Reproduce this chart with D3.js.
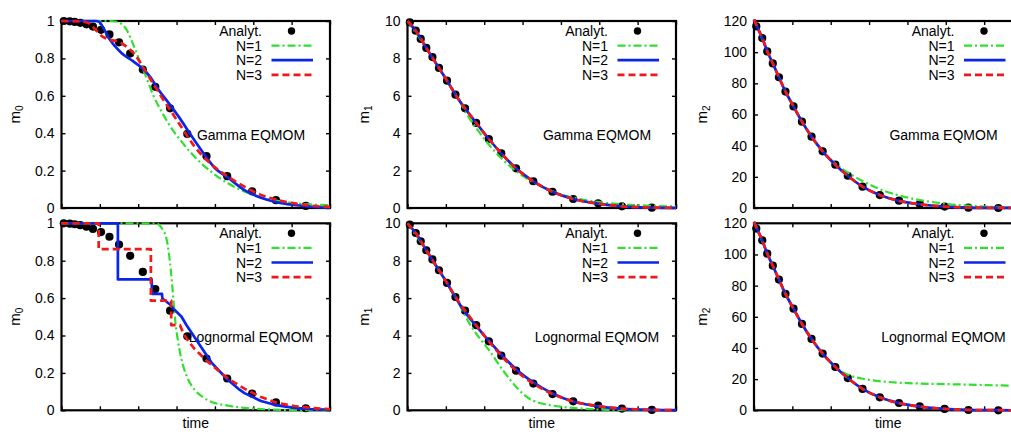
<!DOCTYPE html>
<html><head><meta charset="utf-8">
<script src="https://cdn.jsdelivr.net/npm/d3@7"></script>
<style>
body{margin:0;background:#fff}
svg{display:block}
text{font-family:"Liberation Sans",Arial,Helvetica,sans-serif}
</style>
</head><body>
<svg id="c" width="1011" height="432"></svg>
<script>
// ---------------- DATA ----------------
const timeDomain = [0, 7];
const timeTicks = [0, 1, 2, 3, 4, 5, 6, 7];

const m0Ticks = [0, 0.2, 0.4, 0.6, 0.8, 1];
const m0TickLabels = ["0", "0.2", "0.4", "0.6", "0.8", "1"];
const m1Ticks = [0, 2, 4, 6, 8, 10];
const m1TickLabels = ["0", "2", "4", "6", "8", "10"];
const m2Ticks = [0, 20, 40, 60, 80, 100, 120];
const m2TickLabels = ["0", "20", "40", "60", "80", "100", "120"];

const legendLabels = ["Analyt.", "N=1", "N=2", "N=3"];
const methodLabels = ["Gamma EQMOM", "Lognormal EQMOM"];

// analytical solution (shared time points)
const tAnalyt = [0.06, 0.215, 0.345, 0.49, 0.65, 0.82, 1.03, 1.25, 1.50, 1.79, 2.12, 2.445, 2.83, 3.28, 3.78, 4.32, 4.97, 5.59, 6.37];
const m0Analyt = [1.0, 0.998, 0.995, 0.99, 0.982, 0.97, 0.953, 0.928, 0.886, 0.826, 0.74, 0.648, 0.533, 0.396, 0.277, 0.17, 0.089, 0.042, 0.011];
const m1Analyt = [9.93, 9.48, 9.04, 8.56, 8.07, 7.49, 6.81, 6.06, 5.33, 4.55, 3.69, 2.92, 2.12, 1.43, 0.87, 0.48, 0.25, 0.09, 0.02];
const m2Analyt = [116.6, 109.1, 100.5, 92.8, 83.9, 74.7, 65.2, 55.4, 45.8, 36.4, 27.8, 20.7, 13.7, 8.3, 4.7, 2.6, 0.9, 0.2, 0.0];

// Gamma EQMOM, m0  [time, value]
const gammaM0N1 = [[0,1],[1.25,1],[1.45,0.996],[1.58,0.982],[1.70,0.952],[1.875,0.872],[2.05,0.78],[2.22,0.694],[2.39,0.604],[2.61,0.515],[2.87,0.426],[3.13,0.355],[3.47,0.274],[3.9,0.194],[4.34,0.132],[4.77,0.088],[5.2,0.056],[5.63,0.038],[6.07,0.026],[6.5,0.019],[7,0.015]];
const gammaM0N2 = [[0,1],[0.9,1],[0.98,0.995],[1.10,0.96],[1.23,0.91],[1.40,0.864],[1.57,0.828],[1.83,0.79],[2.09,0.75],[2.31,0.702],[2.52,0.635],[2.78,0.565],[3.09,0.478],[3.39,0.385],[3.73,0.285],[3.99,0.215],[4.34,0.162],[4.77,0.096],[5.2,0.055],[5.63,0.030],[6.07,0.016],[6.41,0.008],[7,0.002]];
const gammaM0N3 = [[0,1],[0.5,0.998],[0.71,0.988],[0.88,0.955],[1.06,0.918],[1.27,0.899],[1.49,0.889],[1.70,0.862],[1.92,0.818],[2.13,0.752],[2.35,0.678],[2.57,0.606],[2.83,0.525],[3.13,0.432],[3.47,0.328],[3.82,0.25],[4.34,0.167],[4.77,0.114],[5.2,0.07],[5.63,0.043],[6.07,0.025],[6.5,0.013],[7,0.006]];

// Lognormal EQMOM, m0
const lognM0N1 = [[0,1],[2.3,1],[2.5,0.997],[2.61,0.975],[2.74,0.915],[2.80,0.84],[2.85,0.75],[2.89,0.66],[2.93,0.56],[2.97,0.47],[3.03,0.38],[3.13,0.27],[3.26,0.185],[3.47,0.11],[3.69,0.07],[3.9,0.046],[4.34,0.025],[4.77,0.013],[5.5,0.004],[6.3,0.001],[7,0]];
const lognM0N2 = [[0,1],[1.47,1],[1.47,0.70],[2.35,0.70],[2.36,0.623],[2.62,0.623],[2.63,0.598],[2.83,0.566],[2.91,0.545],[3.13,0.50],[3.26,0.455],[3.47,0.39],[3.60,0.35],[3.91,0.255],[4.30,0.17],[4.64,0.11],[4.77,0.092],[5.2,0.05],[5.63,0.026],[6.07,0.013],[6.5,0.006],[7,0.003]];
const lognM0N3 = [[0,1],[0.97,1],[0.97,0.862],[2.33,0.862],[2.33,0.586],[2.86,0.586],[2.86,0.455],[3.09,0.455],[3.18,0.41],[3.30,0.372],[3.47,0.328],[3.60,0.302],[3.82,0.259],[4.34,0.17],[4.77,0.116],[5.2,0.071],[5.63,0.039],[6.07,0.023],[6.5,0.013],[7,0.006]];

// m1
const m1Fit = [[0,10],[0.215,9.48],[0.49,8.56],[0.82,7.49],[1.03,6.81],[1.25,6.06],[1.5,5.33],[1.79,4.55],[2.12,3.69],[2.445,2.92],[2.83,2.12],[3.28,1.43],[3.78,0.87],[4.32,0.48],[4.97,0.23],[5.59,0.09],[6.37,0.025],[7,0.008]];
const lognM1N2 = [[0,10],[0.215,9.48],[0.49,8.56],[0.82,7.49],[1.03,6.81],[1.25,6.03],[1.5,5.25],[1.79,4.52],[2.12,3.72],[2.445,2.98],[2.83,2.2],[3.28,1.5],[3.78,0.9],[4.32,0.47],[4.97,0.21],[5.59,0.08],[6.37,0.02],[7,0.006]];
const gammaM1N1 = [[0,10],[0.49,8.56],[1.03,6.81],[1.3,5.93],[1.6,4.85],[2.0,3.7],[2.5,2.55],[3.0,1.72],[3.5,1.15],[4.0,0.72],[4.5,0.48],[5.0,0.31],[5.5,0.21],[6.0,0.15],[6.5,0.11],[7,0.08]];
const lognM1N1 = [[0,10],[0.49,8.56],[1.03,6.81],[1.3,5.9],[1.44,5.3],[1.6,4.7],[1.79,4.1],[2.0,3.55],[2.13,3.2],[2.3,2.7],[2.48,2.16],[2.65,1.7],[2.83,1.26],[3.0,0.9],[3.17,0.63],[3.4,0.42],[3.6,0.32],[4.04,0.18],[4.5,0.1],[4.9,0.05],[5.5,0.02],[6.3,0.005],[7,0]];

// m2
const m2Fit = [[0,121],[0.06,117.5],[0.215,109.1],[0.345,100.5],[0.49,92.8],[0.65,83.9],[0.82,74.7],[1.03,65.2],[1.25,55.4],[1.5,45.8],[1.79,36.4],[2.12,27.8],[2.445,20.7],[2.83,13.7],[3.28,8.3],[3.78,4.6],[4.32,2.4],[4.97,0.9],[5.59,0.3],[6.37,0.05],[7,0.01]];
const gammaM2N1 = [[0,121],[0.49,92.8],[1.03,65.2],[1.5,45.8],[1.8,36.2],[2.05,30],[2.3,25.2],[2.55,21.2],[2.83,17.3],[3.27,12.2],[3.7,8.6],[4.13,6.0],[4.6,4.0],[5.0,2.7],[5.5,1.6],[6.0,0.95],[6.5,0.55],[7,0.35]];
const lognM2N1 = [[0,121],[0.49,92.8],[1.03,65.2],[1.5,45.8],[1.79,36.4],[1.95,31.8],[2.06,29.4],[2.19,26.6],[2.32,24.3],[2.5,22.3],[2.8,20.4],[3.2,18.9],[3.6,18.0],[4.3,17.2],[5.2,16.7],[6.0,16.2],[7,15.6]];

// ---------------- LAYOUT / STYLE ----------------
const colLeft = [61.5, 407.5, 754];
const W = 268.5;
const rowTop = [21, 223.3];
const H = 187;
const ylabOffset = [42, 39, 47];
const seriesStyle = [
  {color: "#2fe02f", width: 2.2, dash: "8,3,2,3"},
  {color: "#0b25e8", width: 2.7, dash: null},
  {color: "#f01818", width: 2.7, dash: "7,4"}
];
const FONT = 14;

const panels = [
  {col:0,row:0,mi:"0",yMax:1,ticks:m0Ticks,tl:m0TickLabels,an:m0Analyt,s:[gammaM0N1,gammaM0N2,gammaM0N3],label:methodLabels[0]},
  {col:1,row:0,mi:"1",yMax:10,ticks:m1Ticks,tl:m1TickLabels,an:m1Analyt,s:[gammaM1N1,m1Fit,m1Fit],label:methodLabels[0]},
  {col:2,row:0,mi:"2",yMax:120,ticks:m2Ticks,tl:m2TickLabels,an:m2Analyt,s:[gammaM2N1,m2Fit,m2Fit],label:methodLabels[0]},
  {col:0,row:1,mi:"0",yMax:1,ticks:m0Ticks,tl:m0TickLabels,an:m0Analyt,s:[lognM0N1,lognM0N2,lognM0N3],label:methodLabels[1]},
  {col:1,row:1,mi:"1",yMax:10,ticks:m1Ticks,tl:m1TickLabels,an:m1Analyt,s:[lognM1N1,lognM1N2,m1Fit],label:methodLabels[1]},
  {col:2,row:1,mi:"2",yMax:120,ticks:m2Ticks,tl:m2TickLabels,an:m2Analyt,s:[lognM2N1,m2Fit,m2Fit],label:methodLabels[1]}
];

const svg = d3.select("#c");

function styleAxis(g){
  g.select(".domain").remove();
  g.selectAll("line").attr("stroke","#000").attr("stroke-width",1.4);
  g.selectAll("text").attr("fill","#000").attr("font-size",FONT)
   .attr("font-family",'"Liberation Sans",Arial,Helvetica,sans-serif');
}

panels.forEach(p => {
  const x0 = colLeft[p.col], y0 = rowTop[p.row];
  const x = d3.scaleLinear().domain(timeDomain).range([x0, x0 + W]);
  const y = d3.scaleLinear().domain([0, p.yMax]).range([y0 + H, y0]);
  const g = svg.append("g");

  // method label (drawn behind data)
  g.append("text").attr("x", x0 + 189.5).attr("y", y0 + 118.5)
    .attr("text-anchor","middle").attr("font-size",FONT).text(p.label);

  // axes with inward ticks on all four sides
  g.append("g").attr("transform",`translate(${x0},0)`)
    .call(d3.axisLeft(y).tickValues(p.ticks).tickFormat((d,i)=>p.tl[i])
      .tickSizeInner(-4).tickSizeOuter(0).tickPadding(7)).call(styleAxis);
  g.append("g").attr("transform",`translate(${x0+W},0)`)
    .call(d3.axisRight(y).tickValues(p.ticks).tickFormat("")
      .tickSizeInner(-4).tickSizeOuter(0)).call(styleAxis);
  g.append("g").attr("transform",`translate(0,${y0+H})`)
    .call(d3.axisBottom(x).tickValues(timeTicks).tickFormat("")
      .tickSizeInner(-4).tickSizeOuter(0)).call(styleAxis);
  g.append("g").attr("transform",`translate(0,${y0})`)
    .call(d3.axisTop(x).tickValues(timeTicks).tickFormat("")
      .tickSizeInner(-4).tickSizeOuter(0)).call(styleAxis);

  g.append("rect").attr("x",x0).attr("y",y0).attr("width",W).attr("height",H)
    .attr("fill","none").attr("stroke","#000").attr("stroke-width",2.2);

  // y label
  const yl = g.append("text")
    .attr("transform",`translate(${x0 - ylabOffset[p.col]},${y0 + H/2}) rotate(-90)`)
    .attr("text-anchor","middle").attr("font-size",15);
  yl.append("tspan").text("m");
  yl.append("tspan").attr("font-size",10).attr("dy",3).text(p.mi);

  // x label on bottom row
  if (p.row === 1) {
    g.append("text").attr("x", x0 + W/2).attr("y", 428)
      .attr("text-anchor","middle").attr("font-size",FONT).text("time");
  }

  // analytical points
  g.append("g").selectAll("circle").data(p.an).join("circle")
    .attr("cx",(d,i)=>x(tAnalyt[i])).attr("cy",d=>y(d)).attr("r",4.1).attr("fill","#000");

  // model curves
  p.s.forEach((data, k) => {
    const st = seriesStyle[k];
    let mono = true;
    for (let i = 1; i < data.length; i++) if (data[i][0] <= data[i-1][0]) mono = false;
    const line = d3.line().x(d=>x(d[0])).y(d=>y(d[1]))
      .curve(mono ? d3.curveMonotoneX : d3.curveLinear);
    g.append("path").attr("d", line(data)).attr("fill","none")
      .attr("stroke", st.color).attr("stroke-width", st.width)
      .attr("stroke-dasharray", st.dash).attr("stroke-linejoin","round");
  });

  // legend
  const xr = x0 + W;
  legendLabels.forEach((lab, i) => {
    const cy = y0 + 10 + i * 14.6;
    g.append("text").attr("x", xr - 68).attr("y", cy + 5)
      .attr("text-anchor","end").attr("font-size",FONT).text(lab);
    if (i === 0) {
      g.append("circle").attr("cx", xr - 38.5).attr("cy", cy).attr("r", 3.7).attr("fill","#000");
    } else {
      const st = seriesStyle[i-1];
      g.append("line").attr("x1", xr - 58.5).attr("x2", xr - 17).attr("y1", cy).attr("y2", cy)
        .attr("stroke", st.color).attr("stroke-width", st.width).attr("stroke-dasharray", st.dash);
    }
  });
});
</script>
</body></html>
